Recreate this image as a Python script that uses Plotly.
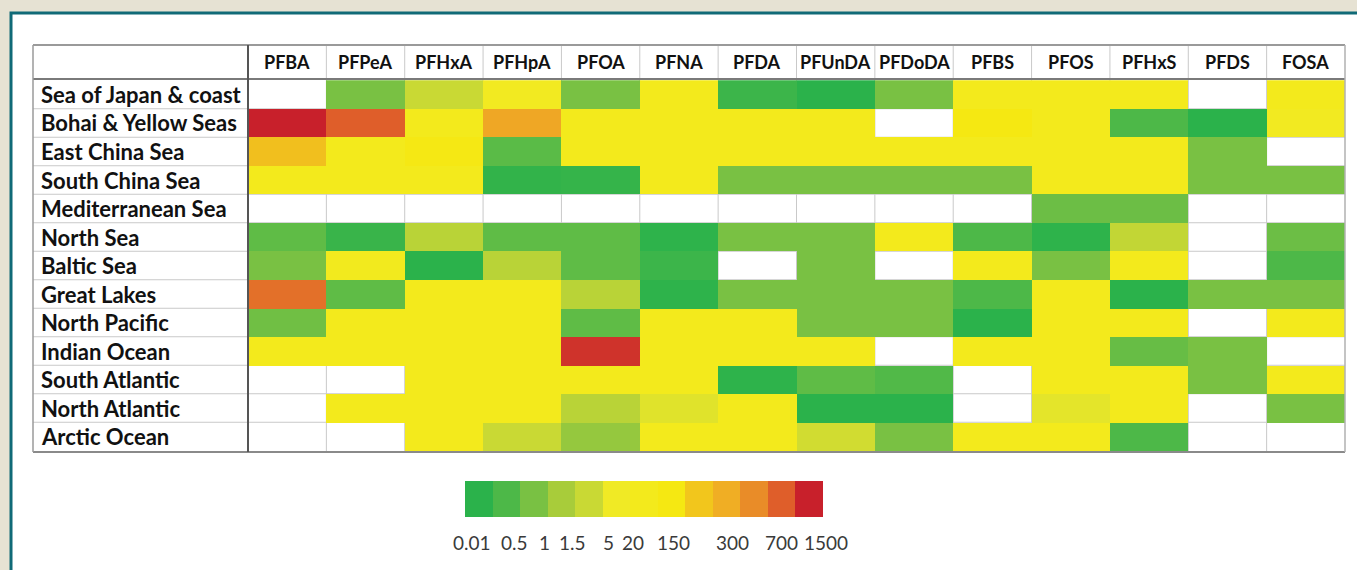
import plotly.graph_objects as go

compounds = ["PFBA", "PFPeA", "PFHxA", "PFHpA", "PFOA", "PFNA", "PFDA",
             "PFUnDA", "PFDoDA", "PFBS", "PFOS", "PFHxS", "PFDS", "FOSA"]
regions = ["Sea of Japan & coast", "Bohai & Yellow Seas", "East China Sea",
           "South China Sea", "Mediterranean Sea", "North Sea", "Baltic Sea",
           "Great Lakes", "North Pacific", "Indian Ocean", "South Atlantic",
           "North Atlantic", "Arctic Ocean"]

# concentration class (1 = lowest ... 13 = highest), None = no data
levels = [
    [None, 3, 5, 6.5, 3, 7, 1.5, 1, 3, 7, 7, 7, None, 7],
    [13, 12, 7, 10.2, 7, 7, 7, 7, None, 8, 7, 2, 1, 6.5],
    [9.3, 7, 7.8, 2.3, 7, 7, 7, 7, 7, 7, 7, 7, 3, None],
    [7, 7, 7, 1.2, 1.3, 7, 3, 3, 3, 3, 7, 7, 3, 3],
    [None, None, None, None, None, None, None, None, None, None, 2.7, 2.7, None, None],
    [2.4, 1.4, 4.5, 2.4, 2.4, 1.1, 3, 3, 7, 2, 1.1, 4.8, None, 2.7],
    [3, 6.8, 1, 4.5, 2.4, 1.5, None, 3, None, 7, 3, 7, None, 2],
    [11.6, 2.4, 7, 7, 4.5, 1.1, 3, 3, 3, 2, 7, 1, 3, 3],
    [2.8, 7, 7, 7, 2.4, 7, 7, 3, 3, 1, 7, 7, None, 7],
    [7, 7, 7, 7, 12.7, 7, 7, 7, None, 7, 7, 2.6, 3, None],
    [None, None, 7, 7, 7, 7, 1.1, 2.4, 2.1, None, 7, 7, 3, 7],
    [None, 7, 7, 7, 4.5, 5.6, 7, 1, 1, None, 5.7, 7, None, 3],
    [None, None, 7, 5, 3.6, 7, 7, 5.2, 3, 7, 7, 2, None, None],
]

class_colors = ["#2bb24b", "#4db848", "#79c143", "#a8cc3a", "#c9d934", "#f0ea25",
                "#f3ea1c", "#f5e812", "#f2c61c", "#f0ae24", "#e98c28", "#df5e2a", "#c8202b"]
legend_classes = list(range(1, 14))
legend_labels = ["0.01", "0.5", "1", "1.5", "5", "20", "150", "300", "700", "1500"]
legend_label_pos = [0.25, 1.78, 2.9, 3.9, 5.2, 6.1, 7.56, 9.7, 11.5, 13.1]

W, H = 1357, 570
def px(x):
    return x / W
def py(y):
    return 1 - y / H

n = len(class_colors)
colorscale = [[i / (n - 1), c] for i, c in enumerate(class_colors)]

fig = go.Figure()
fig.add_trace(go.Heatmap(
    z=levels, x=compounds, y=regions, colorscale=colorscale,
    zmin=1, zmax=13, showscale=False, hoverongaps=False,
    xaxis="x", yaxis="y"))
fig.add_trace(go.Heatmap(
    z=[legend_classes], x=[i - 0.5 for i in legend_classes], y=[0],
    colorscale=colorscale, zmin=1, zmax=13, showscale=False,
    xaxis="x2", yaxis="y2"))

tab_left, tab_right, map_left = px(33), px(1345), px(248)
head_top, head_bot, tab_bot = py(45), py(79), py(452)
leg_x0, leg_x1 = px(465), px(823)

shapes = []
shapes.append(dict(type="rect", xref="paper", yref="paper", x0=px(11), x1=1.05,
                   y0=-0.05, y1=py(13), fillcolor="white",
                   line=dict(color="#106a77", width=3), layer="below"))
grid = "#c9c9c9"
nc, nr = len(compounds), len(regions)
for i in range(1, nc):
    shapes.append(dict(type="line", xref="x", yref="paper", x0=i - 0.5, x1=i - 0.5,
                       y0=tab_bot, y1=head_top, line=dict(color=grid, width=1), layer="below"))
for j in range(1, nr):
    shapes.append(dict(type="line", xref="paper", yref="y", x0=tab_left, x1=tab_right,
                       y0=j - 0.5, y1=j - 0.5, line=dict(color=grid, width=1), layer="below"))
shapes.append(dict(type="line", xref="paper", yref="paper", x0=tab_left, x1=tab_right,
                   y0=head_top, y1=head_top, line=dict(color="#9a9a9a", width=2)))
shapes.append(dict(type="line", xref="paper", yref="paper", x0=tab_left, x1=tab_right,
                   y0=head_bot, y1=head_bot, line=dict(color="#7a7a7a", width=2)))
shapes.append(dict(type="line", xref="paper", yref="paper", x0=tab_left, x1=tab_right,
                   y0=tab_bot, y1=tab_bot, line=dict(color="#8a8a8a", width=2)))
shapes.append(dict(type="line", xref="paper", yref="paper", x0=tab_left, x1=tab_left,
                   y0=tab_bot, y1=head_top, line=dict(color="#9a9a9a", width=1.5)))
shapes.append(dict(type="line", xref="paper", yref="paper", x0=tab_right, x1=tab_right,
                   y0=tab_bot, y1=head_top, line=dict(color="#b0b0b0", width=1.5)))
shapes.append(dict(type="line", xref="paper", yref="paper", x0=map_left, x1=map_left,
                   y0=tab_bot, y1=head_top, line=dict(color="#555555", width=2)))

annotations = []
for c in compounds:
    annotations.append(dict(x=c, xref="x", y=(head_top + head_bot) / 2, yref="paper",
                            text=c, showarrow=False, xanchor="center", yanchor="middle",
                            font=dict(family="Lato", size=18, color="#111111", weight="bold")))
for r in regions:
    annotations.append(dict(x=px(39), xref="paper", y=r, yref="y", text=r,
                            showarrow=False, xanchor="left", yanchor="middle",
                            font=dict(family="Lato", size=22, color="#111111", weight="bold")))
n_leg = len(legend_classes)
for pos, lab in zip(legend_label_pos, legend_labels):
    annotations.append(dict(x=leg_x0 + pos / n_leg * (leg_x1 - leg_x0), xref="paper",
                            y=py(542), yref="paper", text=lab,
                            showarrow=False, xanchor="center", yanchor="middle",
                            font=dict(family="Lato", size=19, color="#3a3a3a")))

fig.update_layout(
    width=W, height=H, margin=dict(l=0, r=0, t=0, b=0),
    paper_bgcolor="#e6e2d3", plot_bgcolor="white",
    xaxis=dict(domain=[map_left, tab_right], showticklabels=False, showgrid=False,
               zeroline=False, fixedrange=True),
    yaxis=dict(domain=[tab_bot, head_bot], autorange="reversed", showticklabels=False,
               showgrid=False, zeroline=False, fixedrange=True),
    xaxis2=dict(domain=[leg_x0, leg_x1], anchor="y2", range=[0, n_leg],
                showticklabels=False, ticks="", showgrid=False, zeroline=False),
    yaxis2=dict(domain=[py(517), py(481)], anchor="x2", range=[-0.5, 0.5],
                showticklabels=False, showgrid=False, zeroline=False),
    shapes=shapes, annotations=annotations, showlegend=False,
)

fig.write_html("out.html", config={"displayModeBar": False},
               post_script="document.body.style.margin='0';document.body.style.overflow='hidden';")
